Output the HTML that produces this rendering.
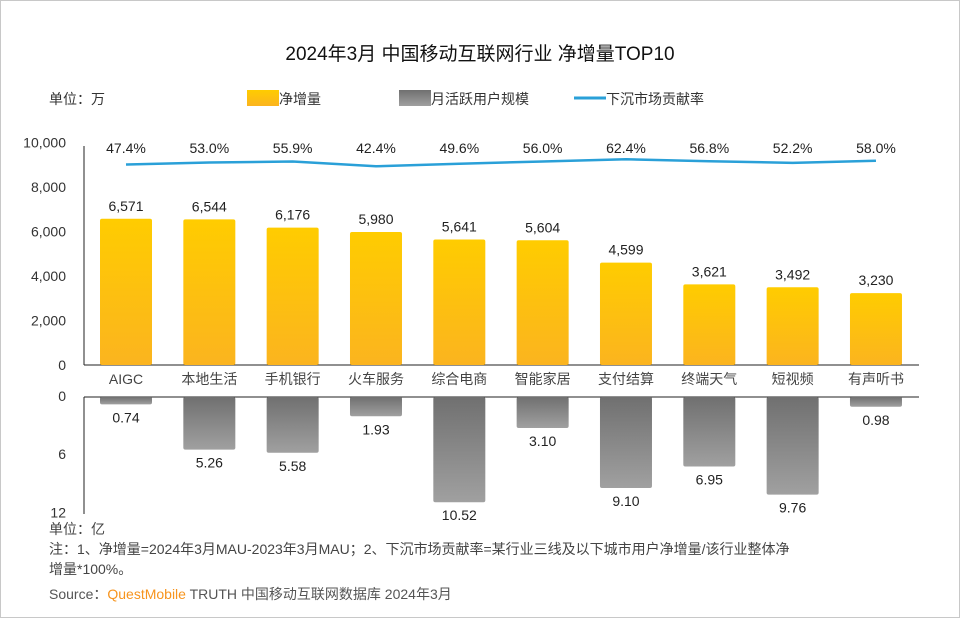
<!DOCTYPE html>
<html><head><meta charset="utf-8"><style>
body{margin:0;background:#fff;}
#wrap{position:relative;width:958px;height:616px;border:1px solid #c8c8c8;background:#fff;overflow:hidden;font-family:"Liberation Sans","Noto Sans CJK SC",sans-serif;}
svg text{font-family:"Liberation Sans","Noto Sans CJK SC",sans-serif;}
</style></head><body>
<div id="wrap">
<svg id="svg" width="958" height="616">
<defs>
<linearGradient id="gy" x1="0" y1="0" x2="0" y2="1"><stop offset="0" stop-color="#ffcc00"/><stop offset="1" stop-color="#fbb41f"/></linearGradient>
<linearGradient id="gg" x1="0" y1="0" x2="0" y2="1"><stop offset="0" stop-color="#707070"/><stop offset="1" stop-color="#a0a0a0"/></linearGradient>
</defs>
<text x="479" y="59" text-anchor="middle" font-size="19" fill="#111">2024年3月 中国移动互联网行业 净增量TOP10</text>
<text x="48" y="103" font-size="14" fill="#333">单位：万</text>
<g><rect x="246" y="89" width="32" height="16" fill="url(#gy)"/><text x="278" y="103" font-size="14" fill="#333">净增量</text></g>
<g><rect x="398" y="89" width="32" height="16" fill="url(#gg)"/><text x="430" y="103" font-size="14" fill="#333">月活跃用户规模</text></g>
<g><line x1="573" y1="97" x2="605" y2="97" stroke="#2aa0d8" stroke-width="3"/><text x="605" y="103" font-size="14" fill="#333">下沉市场贡献率</text></g>
<g id="gtop"></g><g id="gbot"></g><g id="gln"></g>
<text x="48" y="533" font-size="14" fill="#444">单位：亿</text>
<text x="48" y="553" font-size="14" fill="#444">注：1、净增量=2024年3月MAU-2023年3月MAU；2、下沉市场贡献率=某行业三线及以下城市用户净增量/该行业整体净</text>
<text x="48" y="573" font-size="14" fill="#444">增量*100%。</text>
<text x="48" y="598" font-size="14" fill="#555">Source：<tspan fill="#f7941d">QuestMobile</tspan> TRUTH 中国移动互联网数据库 2024年3月</text>
</svg></div>
<script>
const categories=["AIGC","本地生活","手机银行","火车服务","综合电商","智能家居","支付结算","终端天气","短视频","有声听书"];
const netIncrease=[6571,6544,6176,5980,5641,5604,4599,3621,3492,3230];
const mau=[0.74,5.26,5.58,1.93,10.52,3.10,9.10,6.95,9.76,0.98];
const rate=[47.4,53.0,55.9,42.4,49.6,56.0,62.4,56.8,52.2,58.0];
const topTicks=[0,2000,4000,6000,8000,10000];
const botTicks=[0,6,12];
const NS="http://www.w3.org/2000/svg";
function mk(p,t,a,txt){const e=document.createElementNS(NS,t);for(const k in a)e.setAttribute(k,a[k]);if(txt!==undefined)e.textContent=txt;p.appendChild(e);return e;}
const xC=i=>125+i*83.33;
const yTop=v=>364-v*0.02225;
const yBot=v=>396+v*10.0;
const yBotTick=v=>396+v*9.7;
const yLine=v=>163.5-(v-47.4)*0.35;
const gTop=document.getElementById('gtop'),gBot=document.getElementById('gbot'),gLn=document.getElementById('gln');
const ya=mk(gTop,'line',{x1:83,y1:145,x2:83,y2:364,stroke:'#222'});


const xa=mk(gTop,'line',{x1:83,y1:364,x2:918,y2:364,stroke:'#222'});


topTicks.forEach(t=>{const e=mk(gTop,'text',{x:65,y:yTop(t)+5,'text-anchor':'end','font-size':14,fill:'#333'},t.toLocaleString('en-US'));

});
const ba=mk(gBot,'line',{x1:83,y1:396,x2:83,y2:513,stroke:'#222'});


const bx=mk(gBot,'line',{x1:83,y1:396,x2:918,y2:396,stroke:'#222'});


botTicks.forEach(t=>{const e=mk(gBot,'text',{x:65,y:yBotTick(t)+4,'text-anchor':'end','font-size':14,fill:'#333'},String(t));

});
categories.forEach((c,i)=>{
 const x=xC(i);
 const r=mk(gTop,'rect',{x:x-26,y:yTop(netIncrease[i]),width:52,height:364-yTop(netIncrease[i]),fill:'url(#gy)',rx:2});
 
 
 const l=mk(gTop,'text',{x:x,y:yTop(netIncrease[i])-8,'text-anchor':'middle','font-size':14,fill:'#222'},netIncrease[i].toLocaleString('en-US'));
 
 
 const cl=mk(gTop,'text',{x:x,y:383,'text-anchor':'middle','font-size':14,fill:'#444'},c);
 
 
 const b=mk(gBot,'rect',{x:x-26,y:396,width:52,height:yBot(mau[i])-396,fill:'url(#gg)',rx:2});
 
 
 const bl=mk(gBot,'text',{x:x,y:yBot(mau[i])+18,'text-anchor':'middle','font-size':14,fill:'#222'},mau[i].toFixed(2));
 
 
 const rl=mk(gLn,'text',{x:x,y:152,'text-anchor':'middle','font-size':14,fill:'#222'},rate[i].toFixed(1)+'%');
 
 
});
let d='';rate.forEach((v,i)=>{d+=(i?' L':'M')+xC(i)+','+yLine(v);});
const p=mk(gLn,'path',{d:d,fill:'none',stroke:'#2aa0d8','stroke-width':2.5,'stroke-linejoin':'round'});


</script>
</body></html>
